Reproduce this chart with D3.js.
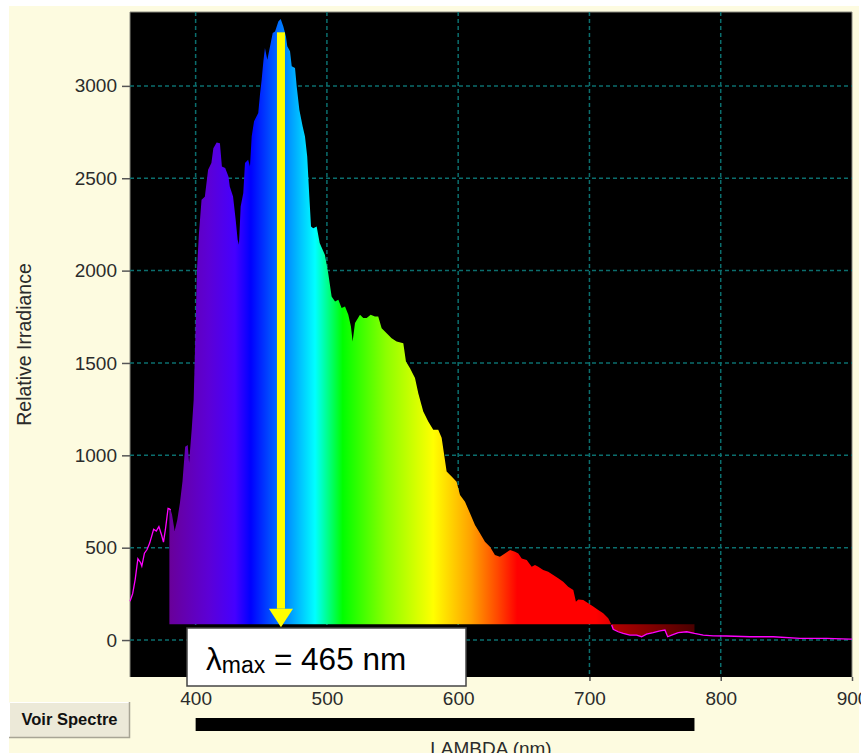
<!DOCTYPE html>
<html>
<head>
<meta charset="utf-8">
<script src="https://cdn.jsdelivr.net/npm/d3@7/dist/d3.min.js"></script>
<style>
  body { margin: 0; background: #fff; }
  svg text { font-family: "Liberation Sans", Arial, sans-serif; }
</style>
</head>
<body>
<script>
// spectrum (nm, relative irradiance)
var wavelengths = [350, 352, 354, 356, 358, 359, 361, 363, 365, 368, 370, 372, 374, 375.5, 377, 379,
  380, 381, 382, 384, 386, 388, 390, 392, 394, 395, 397, 398.5, 400, 401, 402.5, 404.5, 407, 409.5,
  412, 413.5, 416, 418.5, 420, 422.5, 425, 426, 428.5, 430.5, 432, 433, 434.3, 436.3, 437.6, 440,
  441.4, 442.7, 444.5, 447.7, 449, 450.3, 451.6, 452.8, 454.6, 456.7, 458.7, 460.5, 463, 464.8,
  466.8, 468.8, 469.8, 471.9, 473.2, 475.7, 477, 479, 481.5, 483.3, 485, 486.6, 487.9, 489.6,
  492.2, 494.5, 498.5, 501, 503.6, 506.2, 508.7, 511.2, 513.8, 516.3, 518.3, 519.6, 521.4, 525.2,
  527.7, 530.3, 533.3, 536.6, 539.1, 541.7, 545.5, 549.3, 553.1, 558.2, 560.2, 563.3, 567.1,
  569.6, 573.4, 577.2, 581, 584.8, 587.4, 589.9, 591.2, 595, 598.8, 601.4, 605.2, 609, 612.8,
  616.6, 620.4, 624.2, 628, 631.8, 635.6, 639.5, 643.3, 645.8, 648.4, 652.2, 656, 658.5, 661,
  664.8, 668.6, 672.4, 676.2, 680, 683.8, 687.7, 689.7, 691.5, 695.3, 699.1, 702.9, 706.7, 710.5,
  714.3, 716.9, 718.1, 721.9, 725.7, 730.8, 735.9, 739.7, 743.5, 748.6, 753.7, 757.5, 759.6,
  762.6, 767.7, 774.1, 780, 786.7, 794.3, 804.5, 822.3, 840, 860.3, 880.7, 898.4, 900];
var irradiance = [210, 250, 330, 440, 420, 400, 470, 490, 525, 600, 590, 614, 570, 530, 600, 713,
  710, 704, 680, 590, 650, 741, 860, 1047, 1056, 960, 1140, 1300, 1700, 2000, 2200, 2383, 2400, 2546,
  2582, 2663, 2694, 2690, 2564, 2555, 2510, 2456, 2401, 2275, 2167, 2140, 2347, 2420, 2582, 2600,
  2564, 2726, 2808, 2853, 2952, 3033, 3133, 3205, 3142, 3214, 3286, 3295, 3349, 3362,
  3322, 3268, 3214, 3187, 3106, 3097, 2997, 2871, 2781, 2726, 2618, 2401, 2239, 2230,
  2239, 2150, 2085, 1986, 1860, 1833, 1842, 1797, 1806, 1761, 1697, 1616, 1716, 1761,
  1743, 1743, 1761, 1752, 1752, 1688, 1661, 1634, 1616, 1607, 1508, 1471, 1418,
  1336, 1237, 1183, 1138, 1138, 1095, 975, 912, 885, 857, 785, 749, 686, 623,
  578, 532, 505, 460, 451, 469, 487, 478, 469, 442, 433, 397, 406, 397,
  379, 370, 352, 334, 316, 289, 271, 208, 220, 217, 199, 181, 163, 145,
  118, 81, 58, 45, 36, 27, 27, 18, 32, 40, 50, 54, 18,
  27, 40, 45, 36, 27, 23, 22, 18, 18, 9, 9, 5, 5];

var xTicks = [400, 500, 600, 700, 800, 900];
var yTicks = [0, 500, 1000, 1500, 2000, 2500, 3000];
var fillRange = [380, 780];   // coloured band
var fillBase = 85;            // level the colour band starts from
var lambdaMax = 465;

var data = wavelengths.map(function (w, i) { return { w: w, v: irradiance[i] }; });

var svg = d3.select("body").append("svg")
  .attr("width", 861)
  .attr("height", 753);

// window panel
svg.append("rect").attr("x", 9).attr("y", 6).attr("width", 850).attr("height", 747).attr("fill", "#fdfbe0");

var plot = { left: 130, right: 852, top: 12, bottom: 677 };

var x = d3.scaleLinear().domain([350, 900]).range([plot.left, plot.right]);
var y = d3.scaleLinear().domain([-200, 3400]).range([plot.bottom, plot.top]);

svg.append("rect")
  .attr("x", plot.left).attr("y", plot.top)
  .attr("width", plot.right - plot.left).attr("height", plot.bottom - plot.top)
  .attr("fill", "#000");
svg.append("path")
  .attr("d", `M${plot.left},${plot.bottom}V${plot.top}H${plot.right}V${plot.bottom}`)
  .attr("fill", "none").attr("stroke", "#8a8a80").attr("stroke-width", 1);

// grid
var grid = svg.append("g").attr("stroke", "#0b6e6e").attr("stroke-width", 1.5).attr("stroke-dasharray", "4,3");
grid.selectAll(".v").data(xTicks.filter(d => d < 900)).enter().append("line")
  .attr("x1", d => x(d)).attr("x2", d => x(d))
  .attr("y1", plot.top).attr("y2", plot.bottom);
grid.selectAll(".h").data(yTicks).enter().append("line")
  .attr("x1", plot.left).attr("x2", plot.right)
  .attr("y1", d => y(d)).attr("y2", d => y(d));

// rainbow gradient along wavelength
var stops = [[380, "#690099"], [410, "#5c00d6"], [430, "#4500ff"], [442, "#0000ff"], [470, "#0090ff"],
  [491, "#00ffff"], [512, "#00ff00"], [545, "#8cff00"], [581, "#ffff00"], [610, "#ffa000"],
  [630, "#ff4800"], [645, "#ff0000"], [705, "#ff0000"], [716, "#e20000"], [719, "#b00000"], [780, "#4a0000"]];
var grad = svg.append("defs").append("linearGradient")
  .attr("id", "spec")
  .attr("gradientUnits", "userSpaceOnUse")
  .attr("x1", x(fillRange[0])).attr("x2", x(fillRange[1]))
  .attr("y1", 0).attr("y2", 0);
grad.selectAll("stop").data(stops).enter().append("stop")
  .attr("offset", d => (d[0] - fillRange[0]) / (fillRange[1] - fillRange[0]))
  .attr("stop-color", d => d[1]);

var band = data.filter(d => d.w >= fillRange[0] && d.w <= fillRange[1]);
var area = d3.area()
  .x(d => x(d.w))
  .y0(y(fillBase))
  .y1(d => y(d.v));
svg.append("path").datum(band)
  .attr("d", area)
  .attr("fill", "url(#spec)");

// magenta trace, visible outside the colour band
var line = d3.line()
  .defined(d => d.w <= 381 || d.w >= 716)
  .x(d => x(d.w))
  .y(d => y(d.v));
svg.append("path").datum(data)
  .attr("d", line)
  .attr("fill", "none")
  .attr("stroke", "#ff00ff")
  .attr("stroke-width", 1.3);

// axes
var yAxis = svg.append("g")
  .attr("transform", `translate(${plot.left},0)`)
  .call(d3.axisLeft(y).tickValues(yTicks).tickSize(8).tickPadding(5).tickFormat(d3.format("d")));
var xAxis = svg.append("g")
  .attr("transform", `translate(0,${plot.bottom})`)
  .call(d3.axisBottom(x).tickValues(xTicks).tickSize(4).tickPadding(11).tickFormat(d3.format("d")));
[xAxis, yAxis].forEach(function (a) {
  a.select(".domain").remove();
  a.selectAll("line").attr("stroke", "#555").attr("stroke-width", 1.5);
  a.selectAll("text").attr("fill", "#2b2b2b").style("font-size", "19px")
    .style("font-family", "'Liberation Sans', Arial, sans-serif");
});

// lambda max arrow
var ax = x(lambdaMax);
svg.append("rect")
  .attr("x", ax - 4).attr("y", y(3290))
  .attr("width", 8).attr("height", y(170) - y(3290))
  .attr("fill", "#ffff00");
svg.append("path")
  .attr("d", `M${ax - 12},${y(170)}H${ax + 12}L${ax},${y(70)}Z`)
  .attr("fill", "#ffff00");

// label box
svg.append("rect")
  .attr("x", 187).attr("y", 628).attr("width", 279).attr("height", 58)
  .attr("fill", "#fff").attr("stroke", "#444").attr("stroke-width", 1.5);
var lab = svg.append("text").attr("x", 206).attr("y", 670).attr("fill", "#000").style("font-size", "31.5px");
lab.append("tspan").text("λ");
lab.append("tspan").attr("dy", 3).style("font-size", "23px").text("max");
lab.append("tspan").attr("dy", -3).text(" = " + lambdaMax + " nm");

// axis titles
svg.append("text")
  .attr("transform", "translate(31," + (plot.top + plot.bottom) / 2 + ") rotate(-90)")
  .attr("text-anchor", "middle")
  .attr("fill", "#2b2b2b")
  .style("font-size", "19.5px")
  .text("Relative Irradiance");

svg.append("rect")
  .attr("x", x(400)).attr("y", 718)
  .attr("width", x(780) - x(400)).attr("height", 13)
  .attr("fill", "#000");

svg.append("text")
  .attr("x", (plot.left + plot.right) / 2).attr("y", 755)
  .attr("text-anchor", "middle")
  .attr("fill", "#2b2b2b")
  .style("font-size", "19px")
  .text("LAMBDA (nm)");

// button
var btn = svg.append("g");
btn.append("rect").attr("x", 9).attr("y", 702).attr("width", 121).attr("height", 36).attr("fill", "#ece9d8");
btn.append("path").attr("d", "M9.5,737.5V702.5H129.5").attr("fill", "none").attr("stroke", "#fff");
btn.append("path").attr("d", "M9,737.5H129.5V702").attr("fill", "none").attr("stroke", "#a8a595").attr("stroke-width", 1.5);
btn.append("text")
  .attr("x", 69.5).attr("y", 725)
  .attr("text-anchor", "middle")
  .attr("fill", "#111")
  .style("font-size", "16.5px")
  .style("font-weight", "bold")
  .text("Voir Spectre");
</script>
</body>
</html>
